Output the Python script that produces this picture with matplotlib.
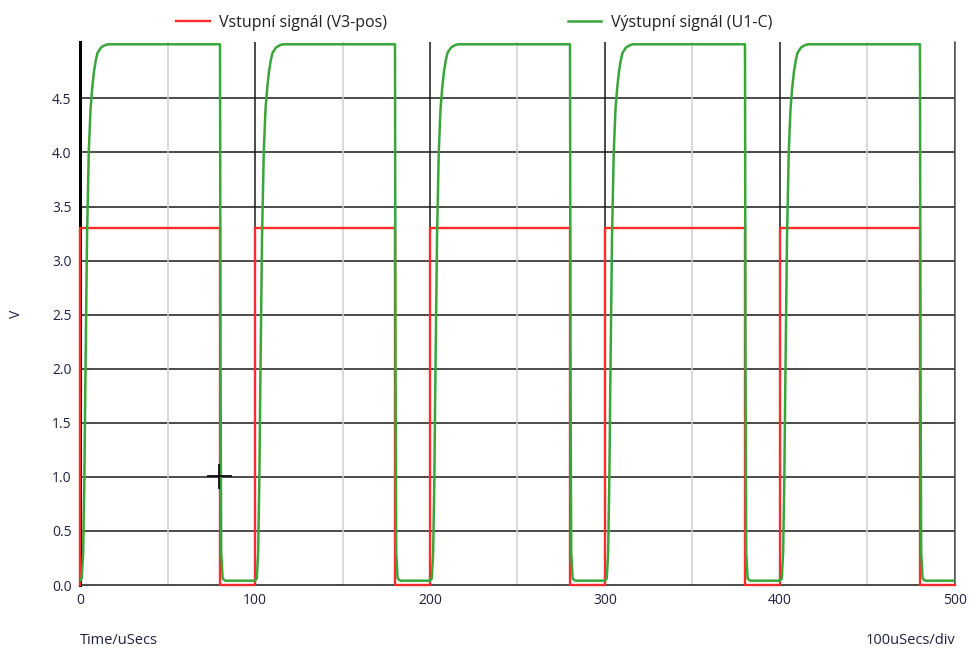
import numpy as np
import matplotlib
matplotlib.use("Agg")
import matplotlib.pyplot as plt

# one period of each signal (time offset in us, volts)
period = 100
n_periods = 5
in_t = [0, 0, 80, 80, 100]
in_v = [0.0, 3.3, 3.3, 0.0, 0.0]
out_t = [0, 1.0, 1.8, 2.5, 3.0, 4.0, 5.0, 6.0, 7.0, 8.0, 9.0, 10.0, 12.0, 14.0, 16.0,
         80.0, 80.3, 80.7, 81.5, 83.0, 100.0]
out_v = [0.04, 0.06, 0.3, 1.0, 1.8, 3.2, 4.0, 4.4, 4.6, 4.75, 4.85, 4.92, 4.97, 4.99, 5.0,
         5.0, 2.0, 0.3, 0.06, 0.04, 0.04]
cursor = (79.5, 1.01)

legend_in = "Vstupní signál (V3-pos)"
legend_out = "Výstupní signál (U1-C)"
y_ticks = [0.0, 0.5, 1.0, 1.5, 2.0, 2.5, 3.0, 3.5, 4.0, 4.5]
x_ticks = [0, 100, 200, 300, 400, 500]

def tile(t, v):
    tt, vv = [], []
    for k in range(n_periods):
        tt += [x + k * period for x in t]
        vv += list(v)
    return tt, vv

plt.rcParams['font.family'] = ['Open Sans', 'DejaVu Sans']

fig = plt.figure(figsize=(9.71, 6.48), dpi=100)
ax = fig.add_axes([0.0824, 0.0972, 0.9011, 0.8378])

tick_col = '#202040'
for y in y_ticks[1:]:
    ax.axhline(y, color='#1a1a1a', lw=1.1, zorder=1)
for x in range(50, 500, 100):
    ax.axvline(x, color='#cfcfcf', lw=1.1, zorder=1)
for x in x_ticks[1:]:
    ax.axvline(x, color='#1a1a1a', lw=1.1, zorder=1)

ti, vi = tile(in_t, in_v)
to, vo = tile(out_t, out_v)
ax.plot(ti, vi, color='#ff2a2a', lw=1.7, zorder=3, clip_on=False, label=legend_in)
ax.plot(to, vo, color='#3aa63a', lw=1.8, zorder=4, label=legend_out)
ax.plot(*cursor, marker='+', ms=18, mew=1.2, color='black', zorder=5)

ax.set_xlim(0, 500)
ax.set_ylim(0, 5.02)
ax.set_xticks(x_ticks)
ax.set_yticks(y_ticks)
ax.set_yticklabels([f"{y:.1f}" for y in y_ticks])
ax.tick_params(length=0, labelsize=10, colors=tick_col, pad=6)

ax.spines['top'].set_visible(False)
ax.spines['left'].set_linewidth(2.2)
ax.spines['left'].set_color('black')
ax.spines['bottom'].set_linewidth(1.1)
ax.spines['bottom'].set_color('#1a1a1a')
ax.spines['right'].set_linewidth(1.1)
ax.spines['right'].set_color('#555555')

ax.set_ylabel("V", fontsize=10, color=tick_col, labelpad=20)
fig.text(0.0824, 0.006, "Time/uSecs", fontsize=10.5, color=tick_col, ha='left', va='baseline')
fig.text(0.9835, 0.006, "100uSecs/div", fontsize=10.5, color=tick_col, ha='right', va='baseline')

ax.legend(ncol=2, frameon=False, loc='lower left', bbox_to_anchor=(0.097, 1.0),
          fontsize=11.5, handlelength=2.1, handletextpad=0.6, columnspacing=11.3,
          borderpad=0.2, labelcolor='#202020')

fig.savefig("out.png", dpi=100)
